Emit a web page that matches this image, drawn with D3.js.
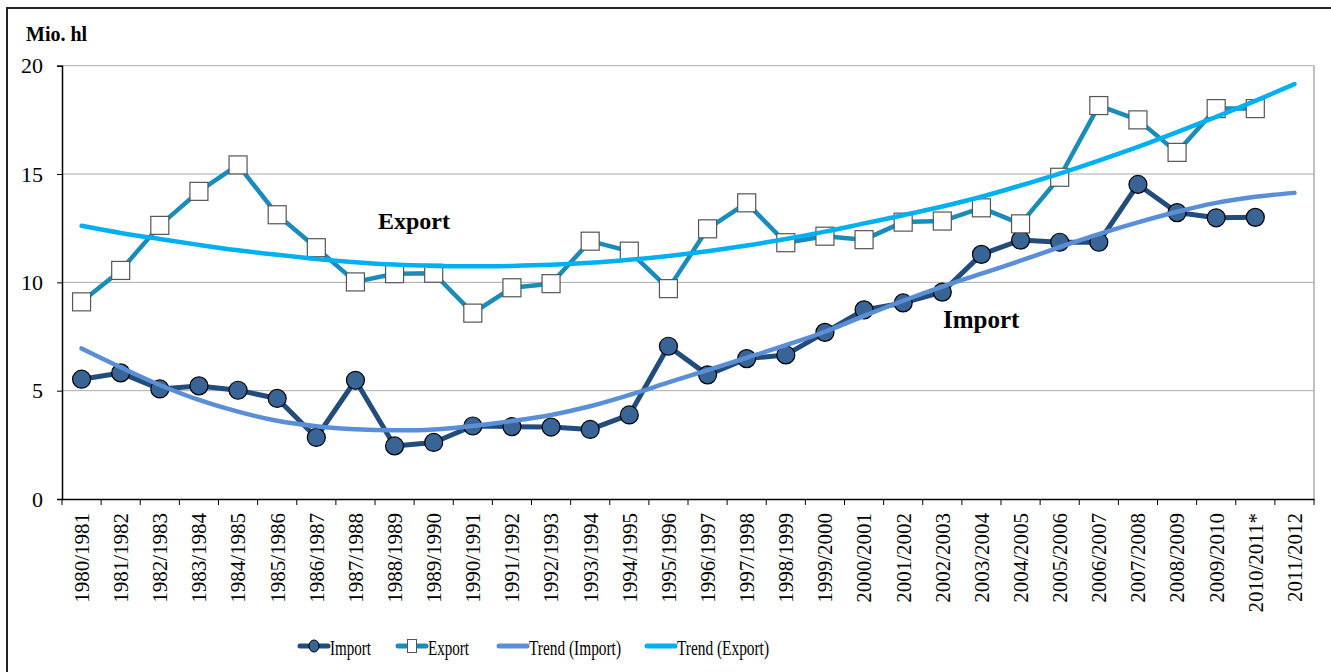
<!DOCTYPE html>
<html>
<head>
<meta charset="utf-8">
<script src="https://cdn.jsdelivr.net/npm/d3@7"></script>
<style>
  body { margin: 0; background: #fff; }
  svg { display: block; font-family: "Liberation Serif", "Times New Roman", serif; }
</style>
</head>
<body>
<svg id="chart" width="1331" height="672"></svg>
<script>
// Seasons on the x axis
const seasons = [
  "1980/1981", "1981/1982", "1982/1983", "1983/1984", "1984/1985", "1985/1986",
  "1986/1987", "1987/1988", "1988/1989", "1989/1990", "1990/1991", "1991/1992",
  "1992/1993", "1993/1994", "1994/1995", "1995/1996", "1996/1997", "1997/1998",
  "1998/1999", "1999/2000", "2000/2001", "2001/2002", "2002/2003", "2003/2004",
  "2004/2005", "2005/2006", "2006/2007", "2007/2008", "2008/2009", "2009/2010",
  "2010/2011*", "2011/2012"
];

// Mio. hl (no value for 2011/2012)
const importValues = [
  5.53, 5.82, 5.08, 5.22, 5.02, 4.64, 2.84, 5.48, 2.45, 2.61, 3.37, 3.34,
  3.32, 3.21, 3.88, 7.05, 5.73, 6.48, 6.65, 7.69, 8.73, 9.05, 9.55, 11.29,
  11.95, 11.85, 11.85, 14.52, 13.22, 12.98, 13.0
];
const exportValues = [
  9.1, 10.55, 12.63, 14.2, 15.42, 13.12, 11.6, 10.02, 10.4, 10.42, 8.58, 9.75,
  9.94, 11.9, 11.44, 9.71, 12.47, 13.67, 11.83, 12.13, 11.97, 12.78, 12.83, 13.44,
  12.7, 14.85, 18.16, 17.5, 16.0, 18.02, 18.02
];

// trend lines as drawn (they run on to 2011/2012)
const trendImport = [
  6.95, 6.08, 5.26, 4.57, 4.03, 3.61, 3.36, 3.22, 3.17, 3.21, 3.37, 3.6,
  3.88, 4.28, 4.8, 5.38, 5.95, 6.52, 7.1, 7.72, 8.45, 9.15, 9.8, 10.4,
  11.0, 11.63, 12.23, 12.77, 13.26, 13.67, 13.95, 14.13
];
const trendExport = [
  12.61, 12.28, 12.0, 11.73, 11.48, 11.27, 11.08, 10.93, 10.82, 10.76, 10.74, 10.76,
  10.81, 10.9, 11.04, 11.22, 11.44, 11.7, 12.0, 12.34, 12.72, 13.1, 13.5, 13.95,
  14.47, 15.02, 15.62, 16.25, 16.93, 17.64, 18.38, 19.15
];

const yTicks = [0, 5, 10, 15, 20];

const colors = {
  import: "#224c7c",
  importFill: "#386496",
  export: "#1a8cba",
  trendImport: "#5a8fd7",
  trendExport: "#00b0f0",
  grid: "#ababab"
};

const svg = d3.select("#chart");
const plotLeft = 62, plotRight = 1314, plotTop = 65.7, plotBottom = 499;

const x = d3.scaleBand().domain(seasons).range([plotLeft, plotRight]);
const y = d3.scaleLinear().domain([0, 20]).range([plotBottom, plotTop]);
const cx = s => x(s) + x.bandwidth() / 2;

// outer frame (runs off the right and bottom edge)
svg.append("rect")
  .attr("x", 7).attr("y", 8)
  .attr("width", 1340).attr("height", 680)
  .attr("fill", "none").attr("stroke", "#222").attr("stroke-width", 2);

// gridlines
svg.append("g").selectAll("line")
  .data(yTicks.filter(d => d > 0))
  .join("line")
  .attr("x1", plotLeft).attr("x2", plotRight)
  .attr("y1", d => y(d)).attr("y2", d => y(d))
  .attr("stroke", colors.grid).attr("stroke-width", 1);

// plot area right edge
svg.append("line")
  .attr("x1", plotRight).attr("x2", plotRight)
  .attr("y1", plotTop).attr("y2", plotBottom)
  .attr("stroke", colors.grid).attr("stroke-width", 1.5);

// Y axis
const yAxis = svg.append("g")
  .attr("transform", "translate(" + plotLeft + ",0)")
  .call(d3.axisLeft(y).tickValues(yTicks).tickSize(5).tickPadding(14));
yAxis.select(".domain").attr("stroke", "#000").attr("stroke-width", 1.5);
yAxis.selectAll(".tick line").attr("stroke", "#000");
yAxis.selectAll(".tick text")
  .attr("font-family", "Liberation Serif, serif")
  .attr("font-size", 22).attr("fill", "#000");

// X axis: ticks sit between categories
const xAxis = svg.append("g")
  .attr("transform", "translate(0," + plotBottom + ")")
  .call(d3.axisBottom(x).tickSize(0).tickSizeOuter(0).tickFormat(""));
xAxis.select(".domain").attr("stroke", "#000").attr("stroke-width", 1.5);
xAxis.selectAll(".tick").remove();
xAxis.selectAll("line.sep")
  .data(seasons.concat(["end"]))
  .join("line")
  .attr("class", "sep")
  .attr("x1", (d, i) => i < seasons.length ? x(d) : plotRight)
  .attr("x2", (d, i) => i < seasons.length ? x(d) : plotRight)
  .attr("y1", 0).attr("y2", 6)
  .attr("stroke", "#000");

svg.append("g").selectAll("text")
  .data(seasons)
  .join("text")
  .attr("transform", d => "translate(" + cx(d) + ",513) rotate(-90)")
  .attr("text-anchor", "end")
  .attr("dy", "0.35em")
  .attr("font-size", 21)
  .text(d => d);

// Import series
const seriesLine = d3.line().x((d, i) => cx(seasons[i])).y(d => y(d));
svg.append("path")
  .attr("d", seriesLine(importValues))
  .attr("fill", "none").attr("stroke", colors.import)
  .attr("stroke-width", 5).attr("stroke-linejoin", "round");
svg.append("g").selectAll("circle")
  .data(importValues)
  .join("circle")
  .attr("cx", (d, i) => cx(seasons[i]))
  .attr("cy", d => y(d))
  .attr("r", 9)
  .attr("fill", colors.importFill)
  .attr("stroke", "#000").attr("stroke-width", 1.2);

// Export series
svg.append("path")
  .attr("d", seriesLine(exportValues))
  .attr("fill", "none").attr("stroke", colors.export)
  .attr("stroke-width", 4.5).attr("stroke-linejoin", "round");
svg.append("g").selectAll("rect")
  .data(exportValues)
  .join("rect")
  .attr("x", (d, i) => cx(seasons[i]) - 9)
  .attr("y", d => y(d) - 9)
  .attr("width", 18).attr("height", 18)
  .attr("fill", "#fff")
  .attr("stroke", "#555").attr("stroke-width", 1.2);

// trend lines on top
const trendLine = d3.line()
  .x((d, i) => cx(seasons[i])).y(d => y(d))
  .curve(d3.curveCatmullRom);
svg.append("path")
  .attr("d", trendLine(trendImport))
  .attr("fill", "none").attr("stroke", colors.trendImport)
  .attr("stroke-width", 4.5).attr("stroke-linecap", "round");
svg.append("path")
  .attr("d", trendLine(trendExport))
  .attr("fill", "none").attr("stroke", colors.trendExport)
  .attr("stroke-width", 4.5).attr("stroke-linecap", "round");

// titles and labels
svg.append("text").attr("x", 26).attr("y", 41)
  .attr("font-size", 20).attr("font-weight", "bold").text("Mio. hl");
svg.append("text").attr("x", 378).attr("y", 229)
  .attr("font-size", 24).attr("font-weight", "bold").text("Export");
svg.append("text").attr("x", 943).attr("y", 328)
  .attr("font-size", 25).attr("font-weight", "bold").text("Import");

// legend
const legendItems = [
  { name: "Import", color: colors.import, marker: "circle", x: 300, w: 41 },
  { name: "Export", color: colors.export, marker: "square", x: 398, w: 41 },
  { name: "Trend (Import)", color: colors.trendImport, marker: null, x: 499, w: 92 },
  { name: "Trend (Export)", color: colors.trendExport, marker: null, x: 647, w: 92 }
];
const ly = 646;
const legend = svg.append("g");
legendItems.forEach(item => {
  const g = legend.append("g").attr("transform", "translate(" + item.x + "," + ly + ")");
  g.append("line").attr("x1", 0).attr("x2", 28).attr("y1", 0).attr("y2", 0)
    .attr("stroke", item.color).attr("stroke-width", 5).attr("stroke-linecap", "round");
  if (item.marker === "circle") {
    g.append("ellipse").attr("cx", 14).attr("cy", 0).attr("rx", 5).attr("ry", 6)
      .attr("fill", colors.importFill).attr("stroke", "#000").attr("stroke-width", 1);
  } else if (item.marker === "square") {
    g.append("rect").attr("x", 9.5).attr("y", -6.5).attr("width", 9).attr("height", 13)
      .attr("fill", "#fff").attr("stroke", "#555").attr("stroke-width", 1);
  }
  g.append("text").attr("x", 30).attr("y", 8.5)
    .attr("font-size", 21)
    .attr("textLength", item.w).attr("lengthAdjust", "spacingAndGlyphs")
    .text(item.name);
});
</script>
</body>
</html>
